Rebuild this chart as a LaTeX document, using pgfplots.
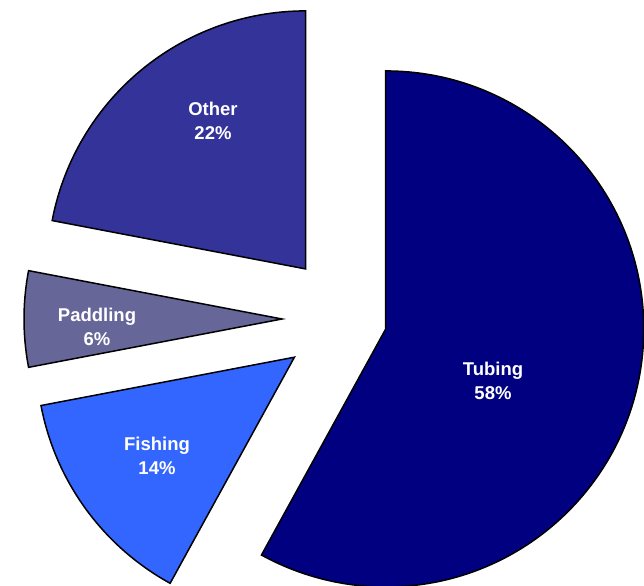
\documentclass[border=0pt]{standalone}
\usepackage{pgfplots}
\usepackage{pgfplotstable}
\pgfplotsset{compat=1.18}
\usepackage{fontspec}
\setmainfont{Liberation Sans}
\definecolor{ctubing}{RGB}{0,0,128}
\definecolor{cfishing}{RGB}{51,102,255}
\definecolor{cpaddling}{RGB}{102,102,153}
\definecolor{cother}{RGB}{51,51,153}
\pgfplotstableread{
label pct explode lx ly col
Tubing 58 40 493 205 ctubing
Fishing 14 65 157 130 cfishing
Paddling 6 65 97 259 cpaddling
Other 22 65 213 465 cother
}\piedata
\begin{document}
\begin{tikzpicture}
\begin{axis}[hide axis, scale only axis, width=644bp, height=586bp,
  xmin=0, xmax=644, ymin=0, ymax=586, clip=true]
\path (rel axis cs:0,0) rectangle (rel axis cs:1,1);
\xdef\cum{0}
\pgfplotsinvokeforeach{0,...,3}{
  \pgfplotstablegetelem{#1}{pct}\of\piedata \xdef\p{\pgfplotsretval}
  \pgfplotstablegetelem{#1}{explode}\of\piedata \xdef\e{\pgfplotsretval}
  \pgfplotstablegetelem{#1}{lx}\of\piedata \xdef\lx{\pgfplotsretval}
  \pgfplotstablegetelem{#1}{ly}\of\piedata \xdef\ly{\pgfplotsretval}
  \pgfplotstablegetelem{#1}{label}\of\piedata \xdef\lab{\pgfplotsretval}
  \pgfplotstablegetelem{#1}{col}\of\piedata \xdef\col{\pgfplotsretval}
  \pgfmathsetmacro\sa{90-3.6*\cum}
  \pgfmathsetmacro\ea{90-3.6*(\cum+\p)}
  \pgfmathsetmacro\ma{(\sa+\ea)/2}
  \pgfmathsetmacro\ax{347+\e*cos(\ma)}
  \pgfmathsetmacro\ay{267+\e*sin(\ma)}
  \edef\doit{\noexpand\fill[fill=\col, draw=black, line width=1.5bp, line join=miter]
    (axis cs:\ax,\ay) -- ++(\sa:258bp) arc[start angle=\sa, end angle=\ea, radius=258bp] -- cycle;
    \noexpand\node[text=white, align=center, inner sep=0pt,
      font=\noexpand\fontsize{18.5bp}{23.5bp}\noexpand\selectfont\noexpand\bfseries]
      at (axis cs:\lx,\ly) {\lab\noexpand\\\p\noexpand\%};}
  \doit
  \pgfmathsetmacro\tmp{\cum+\p}
  \xdef\cum{\tmp}
}
\end{axis}
\end{tikzpicture}
\end{document}
